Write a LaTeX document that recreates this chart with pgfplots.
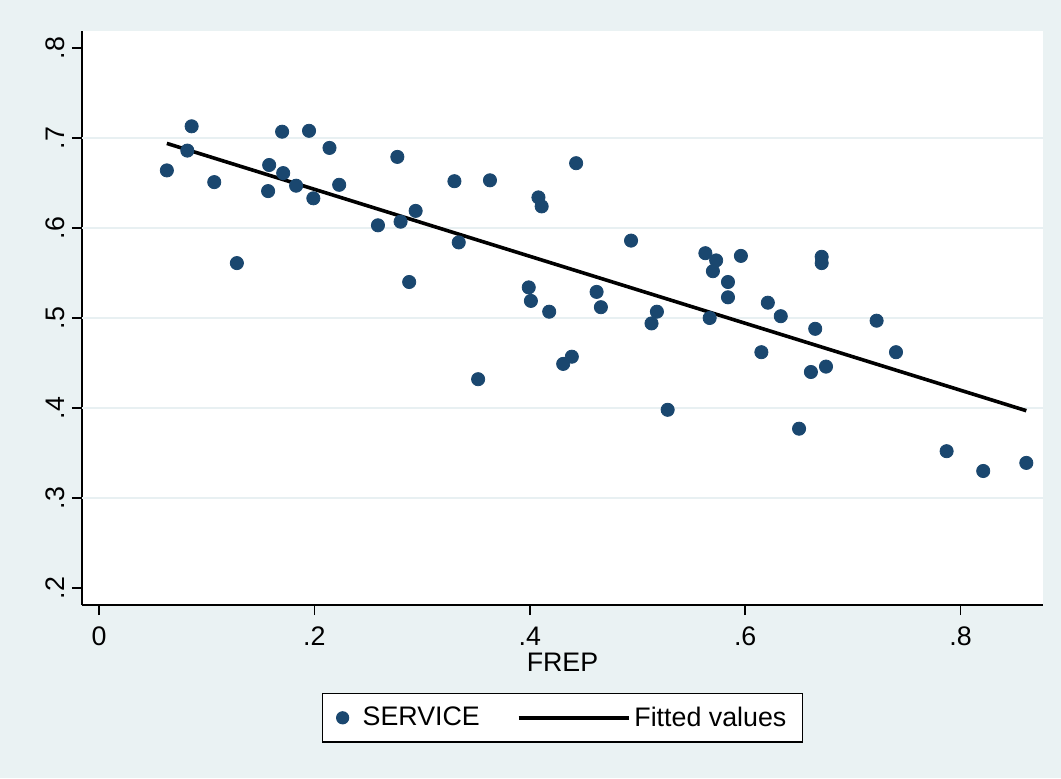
\documentclass[border=0pt]{standalone}
\usepackage{pgfplots}
\pgfplotsset{compat=1.18}
\usepackage{fontspec}
\setmainfont{Liberation Sans}
\definecolor{bgc}{RGB}{234,242,243}
\definecolor{gridc}{RGB}{232,240,242}
\definecolor{navy}{RGB}{26,71,111}
\newcommand{\fs}{\fontsize{13.4}{16}\selectfont}
\pgfplotsset{
  scatleg/.style={legend image code/.code={\path[draw=none,fill=none] (-4pt,-0.1pt) rectangle (8pt,0.1pt);\draw[##1, mark size=3pt] plot coordinates {(0pt,0pt)};}},
  lineleg/.style={legend image code/.code={\draw[##1] (0pt,0pt) -- (55pt,0pt);}},
}
\begin{document}
\begin{tikzpicture}[x=1pt,y=1pt]
\fill[bgc] (0,0) rectangle (530.5,389);
\begin{axis}[
  at={(41pt,86.5pt)}, anchor=south west,
  scale only axis, width=480.5pt, height=287pt,
  xmin=-0.0158, xmax=0.8765, ymin=0.1811, ymax=0.8189,
  axis x line*=bottom, axis y line*=left,
  axis line style={black, line width=0.8pt, -},
  axis background/.style={fill=white},
  xtick={0,0.2,0.4,0.6,0.8}, xticklabels={0,.2,.4,.6,.8},
  ytick={0.2,0.3,0.4,0.5,0.6,0.7,0.8}, yticklabels={.2,.3,.4,.5,.6,.7,.8},
  tick align=outside, major tick length=5pt,
  tick style={black, line width=0.8pt},
  tick label style={font=\fs},
  xticklabel style={yshift=-2.5pt},
  yticklabel style={rotate=90, anchor=south},
  extra y ticks={0.3,0.4,0.5,0.6,0.7},
  extra y tick labels={},
  extra y tick style={grid=major, major tick length=0pt, major grid style={gridc, line width=1pt}},
  xlabel={FREP},
  xlabel style={font=\fs, at={(axis description cs:0.5,-0.1167)}, anchor=base},
  legend style={at={(0.5,-0.1533)}, anchor=north, draw=black, line width=0.6pt, fill=white,
    font=\fs, legend columns=2,
    /tikz/every even column/.append style={column sep=16.5pt},
    inner xsep=6pt, inner ysep=4.5pt},
]
\addplot[only marks, mark=*, mark size=3.3pt, color=navy, mark options={draw=navy, fill=navy}, scatleg]
table {
x y
0.063 0.664
0.082 0.686
0.086 0.713
0.107 0.651
0.128 0.561
0.157 0.641
0.158 0.670
0.170 0.707
0.171 0.661
0.183 0.647
0.195 0.708
0.199 0.633
0.214 0.689
0.223 0.648
0.259 0.603
0.277 0.679
0.280 0.607
0.288 0.540
0.294 0.619
0.330 0.652
0.334 0.584
0.363 0.653
0.352 0.432
0.408 0.634
0.411 0.624
0.443 0.672
0.399 0.534
0.401 0.519
0.418 0.507
0.431 0.449
0.439 0.457
0.462 0.529
0.466 0.512
0.494 0.586
0.518 0.507
0.513 0.494
0.528 0.398
0.563 0.572
0.573 0.564
0.570 0.552
0.567 0.500
0.584 0.540
0.584 0.523
0.596 0.569
0.615 0.462
0.621 0.517
0.633 0.502
0.650 0.377
0.661 0.440
0.665 0.488
0.671 0.568
0.671 0.561
0.675 0.446
0.722 0.497
0.740 0.462
0.787 0.352
0.821 0.330
0.861 0.339
};
\addlegendentry{SERVICE}
\addplot[black, line width=1.8pt, line cap=butt, lineleg]
coordinates {(0.063,0.694) (0.861,0.397)};
\addlegendentry{Fitted values}
\end{axis}
\end{tikzpicture}
\end{document}
